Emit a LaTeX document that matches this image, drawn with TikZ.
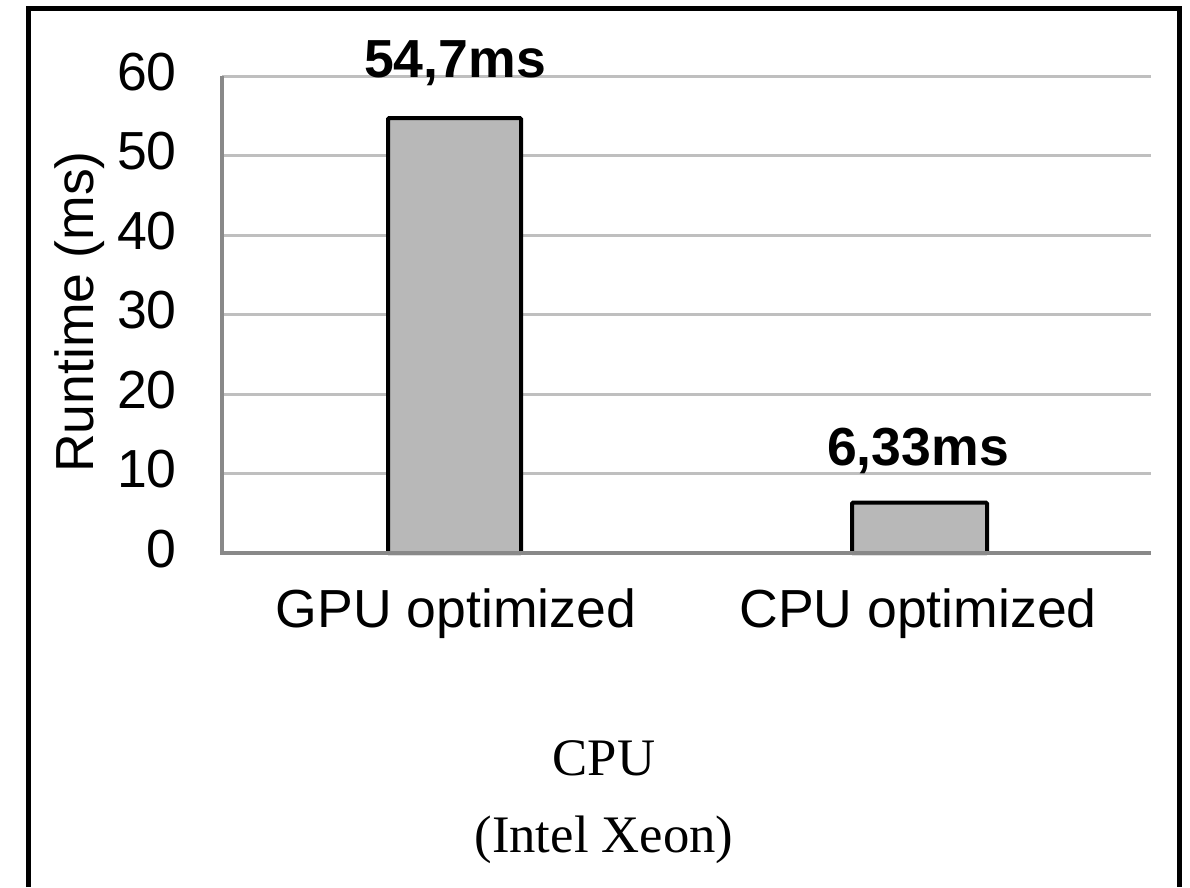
\documentclass[tikz,border=0pt]{standalone}
\usepackage{fontspec}
\setmainfont{Liberation Sans}
\newfontfamily\timesfont{Liberation Serif}
\definecolor{gridgray}{HTML}{BFBFBF}
\definecolor{axisgray}{HTML}{898989}
\definecolor{barfill}{HTML}{B8B8B8}
\tikzset{
  gridline/.style={draw=gridgray, line width=0.06cm},
  axisline/.style={draw=axisgray, line width=0.08cm},
  barbox/.style={draw=black, fill=barfill, line width=0.08cm, rounded corners=0.02cm},
  ticklabel/.style={anchor=base east, inner sep=0pt, font=\fontsize{30.5}{36}\selectfont},
  vallabel/.style={anchor=base, inner sep=0pt, font=\fontsize{30.5}{36}\selectfont\bfseries},
  catlabel/.style={anchor=base, inner sep=0pt, font=\fontsize{30.5}{36}\selectfont},
  serlabel/.style={anchor=base, inner sep=0pt, font=\fontsize{30}{36}\timesfont},
}
\begin{document}
\begin{tikzpicture}[x=0.02cm, y=-0.02cm]
\useasboundingbox (0,0) rectangle (1190,887);
\fill[white] (0,0) rectangle (1190,887);
% frame
\draw[line width=0.1cm] (28,887) -- (28,8) -- (1179,8) -- (1179,887);
% grid
\foreach \v in {10,20,30,40,50,60} {
  \draw[gridline] (222,{553-7.95*\v}) -- (1151,{553-7.95*\v});
}
\foreach \v in {0,10,20,30,40,50,60} {
  \node[ticklabel] (t\v) at (177,{553-7.95*\v+14}) {\v};
}
% axes
\coordinate (o) at (222,553);
\coordinate (ytop) at (222,{553-7.95*60});
\coordinate (xend) at (1151,553);
\draw[axisline] (ytop) -- (o) -- (xend);
% bars
\draw[barbox] (388,553) rectangle (521,{553-7.95*54.7});
\draw[barbox] (852,553) rectangle (987,{553-7.95*6.33});
\draw[axisline] (o) -- (xend);
% value labels
\node[vallabel] (v1) at (455,77) {54,7ms};
\node[vallabel] (v2) at (918,465) {6,33ms};
% category labels
\node[catlabel] (c1) at (456,627) {GPU optimized};
\node[catlabel] (c2) at (918,627) {CPU optimized};
% axis title
\node[anchor=base, inner sep=0pt, rotate=90, font=\fontsize{30.5}{36}\selectfont] (ytitle) at (93,312) {Runtime (ms)};
% series label
\node[serlabel] (s1) at (604,775) {CPU};
\node[serlabel] (s2) at (604,852) {(Intel Xeon)};
\end{tikzpicture}
\end{document}
